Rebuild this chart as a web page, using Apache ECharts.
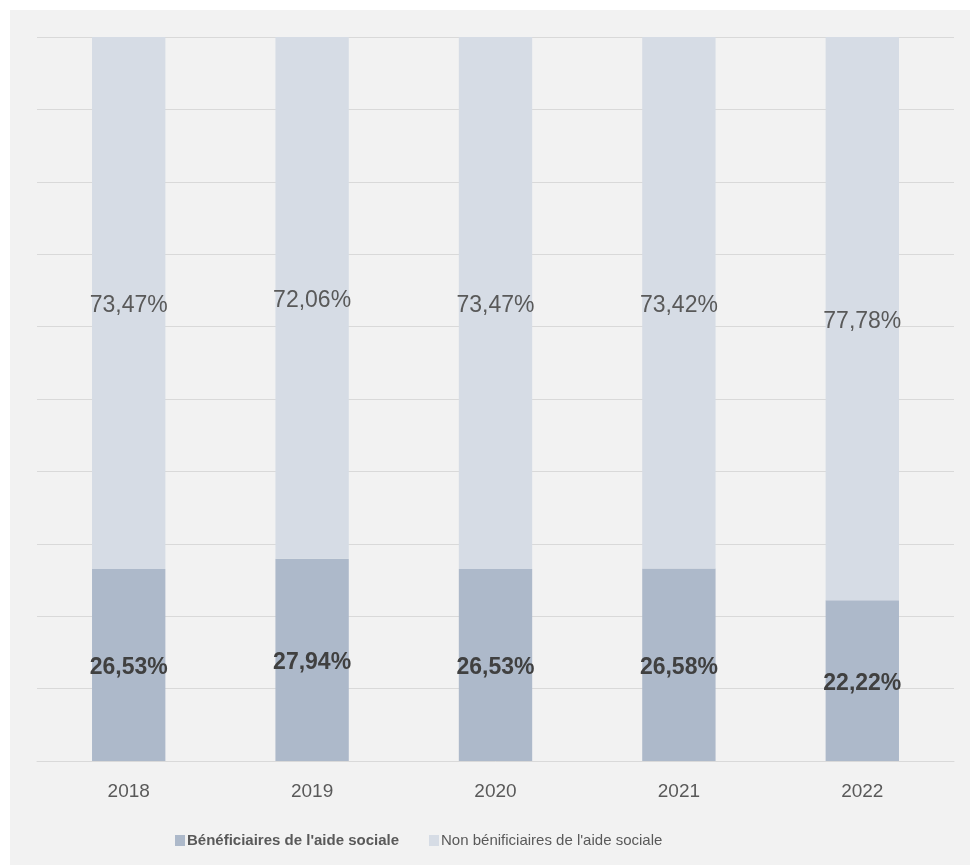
<!DOCTYPE html>
<html>
<head>
<meta charset="utf-8">
<script src="https://cdn.jsdelivr.net/npm/echarts@6/dist/echarts.min.js"></script>
<style>
  body { margin: 0; background: #ffffff; }
  #bg { position: absolute; left: 10px; top: 10px; width: 960px; height: 855px; background: #F2F2F2; }
  #chart { position: absolute; left: 0; top: 0; width: 970px; height: 865px; }
</style>
</head>
<body>
<div id="bg"></div>
<div id="chart"></div>
<script>
// years on the x axis
const years = ['2018', '2019', '2020', '2021', '2022']
// share of beneficiaries (bottom) and non beneficiaries (top), in %
const beneficiaires = [26.53, 27.94, 26.53, 26.58, 22.22]
const nonBeneficiaires = [73.47, 72.06, 73.47, 73.42, 77.78]
const seriesNames = ["Bénéficiaires de l'aide sociale", "Non bénificiaires de l'aide sociale"]

const fmt = (v) => v.toFixed(2).replace('.', ',') + '%'

const myChart = echarts.init(document.getElementById('chart'))
const options = {
    backgroundColor: 'transparent',
    animation: false,
    textStyle: { fontFamily: 'Liberation Sans' },
    grid: { left: 37, right: 16, top: 37, bottom: 104 },
    legend: {
        left: 170,
        top: 828,
        itemWidth: 10,
        itemHeight: 11,
        itemGap: 30,
        icon: 'rect',
        textStyle: { fontSize: 15, color: '#595959', padding: [0, 0, 0, -3] },
        data: [
            { name: seriesNames[0], textStyle: { fontWeight: 'bold', color: '#595959' } },
            { name: seriesNames[1] }
        ]
    },
    xAxis: {
        type: 'category',
        data: years,
        axisTick: { show: false },
        axisLine: { lineStyle: { color: '#D9D9D9', width: 1 } },
        axisLabel: { color: '#595959', fontSize: 19, margin: 21 }
    },
    yAxis: {
        type: 'value',
        min: 0,
        max: 100,
        interval: 10,
        axisLabel: { show: false },
        axisLine: { show: false },
        axisTick: { show: false },
        splitLine: { lineStyle: { color: '#D9D9D9', width: 1 } }
    },
    series: [
        {
            name: seriesNames[0],
            type: 'bar',
            stack: 'total',
            barWidth: '40%',
            data: beneficiaires,
            itemStyle: { color: '#ADB9CA' },
            label: {
                show: true,
                position: 'inside',
                offset: [0, 3],
                fontSize: 23,
                fontWeight: 'bold',
                color: '#404040',
                formatter: (p) => fmt(p.value)
            }
        },
        {
            name: seriesNames[1],
            type: 'bar',
            stack: 'total',
            barWidth: '40%',
            data: nonBeneficiaires,
            itemStyle: { color: '#D6DCE5' },
            label: {
                show: true,
                position: 'inside',
                offset: [0, 3],
                fontSize: 23,
                color: '#595959',
                formatter: (p) => fmt(p.value)
            }
        }
    ]
}
myChart.setOption(options)
</script>
</body>
</html>
